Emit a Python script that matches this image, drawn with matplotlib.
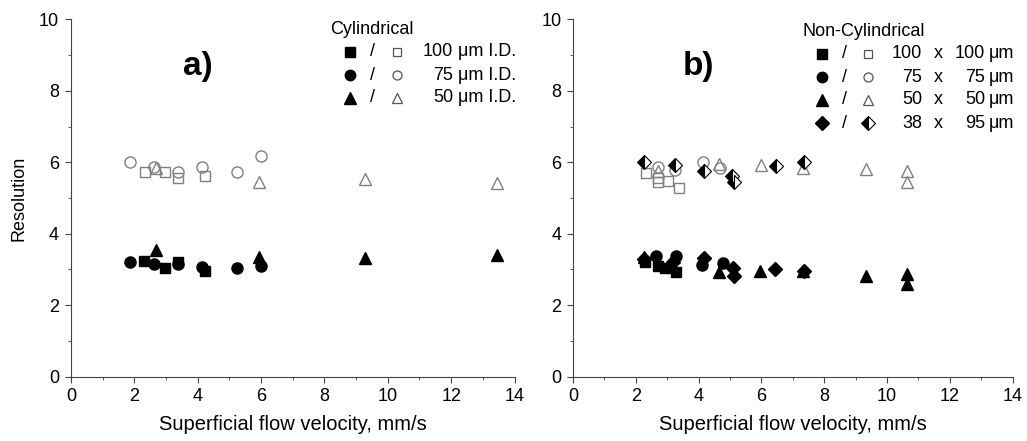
import numpy as np
import matplotlib.pyplot as plt
from matplotlib.ticker import MultipleLocator

plt.rcParams['font.family'] = ['Liberation Sans', 'DejaVu Sans']

# Data, panel a) cylindrical columns (filled = lower set, open = upper set).
cyl100_x_f = [2.31, 2.97, 3.39, 4.24]
cyl100_y_f = [3.24, 3.05, 3.20, 2.97]
cyl100_x_o = [2.35, 2.97, 3.39, 4.24]
cyl100_y_o = [5.72, 5.72, 5.56, 5.62]

cyl75_x_f = [1.88, 2.63, 3.39, 4.13, 5.25, 6.00]
cyl75_y_f = [3.20, 3.15, 3.15, 3.08, 3.05, 3.11]
cyl75_x_o = [1.88, 2.63, 3.39, 4.13, 5.25, 6.00]
cyl75_y_o = [6.01, 5.88, 5.74, 5.86, 5.74, 6.18]

cyl50_x_f = [2.70, 5.93, 9.28, 13.46]
cyl50_y_f = [3.55, 3.36, 3.32, 3.41]
cyl50_x_o = [2.70, 5.93, 9.28, 13.46]
cyl50_y_o = [5.84, 5.44, 5.53, 5.42]

# Data, panel b) non-cylindrical channels.
sq100_x_f = [2.28, 2.70, 2.92, 3.29]
sq100_y_f = [3.22, 3.10, 3.04, 2.94]
sq100_x_o = [2.33, 2.69, 2.69, 3.02, 3.36]
sq100_y_o = [5.71, 5.55, 5.45, 5.49, 5.29]

sq75_x_f = [2.65, 3.27, 4.12, 4.77]
sq75_y_f = [3.38, 3.38, 3.13, 3.18]
sq75_x_o = [2.69, 3.26, 4.14, 4.69]
sq75_y_o = [5.88, 5.79, 6.02, 5.84]

sq50_x_f = [2.25, 4.65, 5.96, 7.32, 9.34, 10.65, 10.65]
sq50_y_f = [3.36, 2.94, 2.97, 2.96, 2.82, 2.88, 2.58]
sq50_x_o = [2.69, 4.65, 5.99, 7.32, 9.34, 10.65, 10.65]
sq50_y_o = [5.77, 5.96, 5.93, 5.84, 5.81, 5.75, 5.45]

rect_x_f = [2.25, 3.18, 4.16, 5.09, 5.11, 6.42, 7.37]
rect_y_f = [3.30, 3.22, 3.32, 3.04, 2.82, 3.01, 2.96]
rect_x_o = [2.25, 3.24, 4.16, 5.07, 5.11, 6.45, 7.37]
rect_y_o = [6.02, 5.93, 5.77, 5.62, 5.46, 5.89, 6.02]

cyl_labels = [("100", "\u03bcm I.D."), ("75", "\u03bcm I.D."), ("50", "\u03bcm I.D.")]
rect_labels = [("100", "100"), ("75", "75"), ("50", "50"), ("38", "95")]

GRAY = '#808080'
fs_msize = {'s': 7, 'o': 8, '^': 8.5, 'D': 7}


def filled(ax, x, y, m):
	ax.plot(x, y, ls='none', marker=m, ms=fs_msize[m], mfc='k', mec='k', clip_on=False)


def opened(ax, x, y, m):
	if m == 'D':
		ax.plot(x, y, ls='none', marker='D', ms=fs_msize[m], fillstyle='left', mfc='k',
			mfcalt='white', mec='k', mew=0.8, clip_on=False)
	else:
		ax.plot(x, y, ls='none', marker=m, ms=fs_msize[m], mfc='none', mec=GRAY, mew=1.0, clip_on=False)


def style(ax):
	ax.set_xlim(0, 14)
	ax.set_ylim(0, 10)
	ax.xaxis.set_major_locator(MultipleLocator(2))
	ax.xaxis.set_minor_locator(MultipleLocator(1))
	ax.yaxis.set_major_locator(MultipleLocator(2))
	ax.yaxis.set_minor_locator(MultipleLocator(1))
	for s in ['top', 'right']:
		ax.spines[s].set_visible(False)
	for s in ['left', 'bottom']:
		ax.spines[s].set_color('#444444')
	ax.tick_params(which='major', direction='out', length=4.5, color='#444444', labelsize=13, pad=4)
	ax.tick_params(which='minor', direction='out', length=2.5, color='#444444')
	ax.set_xlabel("Superficial flow velocity, mm/s", fontsize=14.5, labelpad=7)


fig = plt.figure(figsize=(10.27, 4.41), dpi=100)
ax1 = fig.add_axes([0.069, 0.146, 0.432, 0.810])
ax2 = fig.add_axes([0.558, 0.146, 0.428, 0.810])

# Panel a
opened(ax1, cyl100_x_o, cyl100_y_o, 's')
opened(ax1, cyl75_x_o, cyl75_y_o, 'o')
opened(ax1, cyl50_x_o, cyl50_y_o, '^')
filled(ax1, cyl100_x_f, cyl100_y_f, 's')
filled(ax1, cyl75_x_f, cyl75_y_f, 'o')
filled(ax1, cyl50_x_f, cyl50_y_f, '^')
style(ax1)
ax1.set_ylabel("Resolution", fontsize=13, labelpad=8)
ax1.text(4.0, 8.67, "a)", fontsize=24, fontweight='bold', ha='center', va='center')

# Panel b
opened(ax2, sq100_x_o, sq100_y_o, 's')
opened(ax2, sq75_x_o, sq75_y_o, 'o')
opened(ax2, sq50_x_o, sq50_y_o, '^')
opened(ax2, rect_x_o, rect_y_o, 'D')
filled(ax2, sq100_x_f, sq100_y_f, 's')
filled(ax2, sq75_x_f, sq75_y_f, 'o')
filled(ax2, sq50_x_f, sq50_y_f, '^')
filled(ax2, rect_x_f, rect_y_f, 'D')
style(ax2)
ax2.text(4.0, 8.67, "b)", fontsize=24, fontweight='bold', ha='center', va='center')

# Hand-made legends (figure pixel positions -> fractions)
W, H = 1027.0, 441.0
lfs = 13
lsz = {'s': 6.5, 'o': 7.5, '^': 8.5, 'D': 7.5}


def fx(px): return px / W
def fy(py): return 1 - py / H


def leg_marker(px, py, m, kind):
	lax = fig.add_axes([fx(px) - 0.01, fy(py) - 0.02, 0.02, 0.04])
	lax.set_xlim(-1, 1); lax.set_ylim(-1, 1); lax.axis('off')
	if kind == 'f':
		lax.plot([0], [0], marker=m, ms=lsz[m], mfc='k', mec='k', ls='none')
	elif m == 'D':
		lax.plot([0], [0], marker='D', ms=lsz[m], fillstyle='left', mfc='k', mfcalt='white', mec='k', mew=0.8, ls='none')
	else:
		lax.plot([0], [0], marker=m, ms=lsz[m] - 1, mfc='none', mec='#555555', mew=0.9, ls='none')


fig.text(fx(330), fy(29), "Cylindrical", fontsize=lfs, ha='left', va='center')
for i, m in enumerate(['s', 'o', '^']):
	py = 52 + 23 * i
	leg_marker(350, py, m, 'f')
	fig.text(fx(373), fy(py), "/", fontsize=lfs, ha='center', va='center')
	leg_marker(397, py, m, 'o')
	fig.text(fx(453), fy(py), cyl_labels[i][0], fontsize=lfs, ha='right', va='center')
	fig.text(fx(458), fy(py), cyl_labels[i][1], fontsize=lfs, ha='left', va='center')

fig.text(fx(803), fy(31), "Non-Cylindrical", fontsize=lfs, ha='left', va='center')
for i, m in enumerate(['s', 'o', '^', 'D']):
	py = 54 + 23 * i
	leg_marker(822, py, m, 'f')
	fig.text(fx(845), fy(py), "/", fontsize=lfs, ha='center', va='center')
	leg_marker(868, py, m, 'o')
	fig.text(fx(922), fy(py), rect_labels[i][0], fontsize=lfs, ha='right', va='center')
	fig.text(fx(938), fy(py), "x", fontsize=lfs, ha='center', va='center')
	fig.text(fx(985), fy(py), rect_labels[i][1], fontsize=lfs, ha='right', va='center')
	fig.text(fx(989), fy(py), "\u03bcm", fontsize=lfs, ha='left', va='center')

fig.savefig("out.png", dpi=100)
